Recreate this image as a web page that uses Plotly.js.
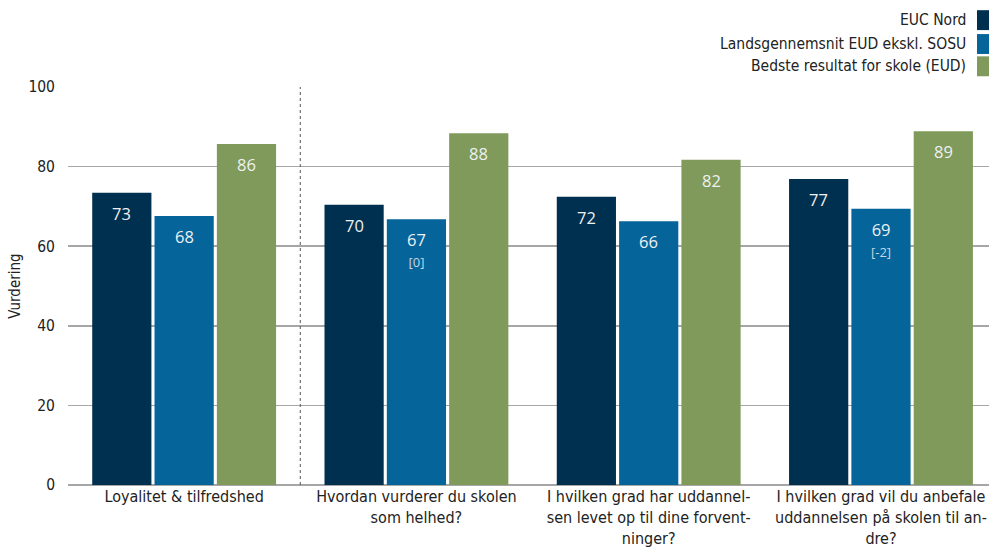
<!DOCTYPE html>
<html><head><meta charset="utf-8">
<script src="https://cdn.plot.ly/plotly-3.0.1.min.js"></script>
<style>html,body{margin:0;padding:0;overflow:hidden;background:#fff}</style>
</head><body><div id="chart" style="width:989px;height:551px"></div>
<script>
const categories = [
  "Loyalitet & tilfredshed",
  "Hvordan vurderer du skolen<br>som helhed?",
  "I hvilken grad har uddannel-<br>sen levet op til dine forvent-<br>ninger?",
  "I hvilken grad vil du anbefale<br>uddannelsen på skolen til an-<br>dre?"
];
const seriesNames = ["EUC Nord", "Landsgennemsnit EUD ekskl. SOSU", "Bedste resultat for skole (EUD)"];
const eucNord = [73.4, 70.4, 72.4, 76.9];
const landsgennemsnit = [67.6, 66.8, 66.3, 69.4];
const bedste = [85.7, 88.4, 81.7, 88.9];
const landsDiff = ["", "[0]", "", "[-2]"];
const colors = ["#00304f", "#05649a", "#7f9a5a"];

const font = "Tahoma, 'DejaVu Sans Condensed', 'DejaVu Sans', sans-serif";
const labelFont = "'Open Sans', 'Noto Sans', sans-serif";
const allSeries = [eucNord, landsgennemsnit, bedste];

const data = allSeries.map((vals, k) => ({
  type: "bar",
  name: seriesNames[k],
  x: categories,
  y: vals,
  marker: {color: colors[k]},
  hoverinfo: "none"
}));

const shapes = [{
  type: "line", xref: "x", yref: "y", x0: 0.5, x1: 0.5, y0: 0, y1: 100,
  line: {color: "#555", width: 1, dash: "dot"}
}];
const annotations = [];
const slotPx = 62.3;
allSeries.forEach((vals, k) => {
  vals.forEach((v, i) => {
    let t = String(Math.round(v));
    if (k === 1 && landsDiff[i]) t += '<br><span style="font-size:13px;color:#c5d5e3">' + landsDiff[i] + '</span>';
    annotations.push({xref: "x", yref: "y", x: categories[i], y: v, xshift: (k - 1) * slotPx, yshift: -7,
      xanchor: "center", yanchor: "top", showarrow: false, text: t,
      font: {family: labelFont, size: 16.5, color: "#eef1f3"}});
  });
});
const legY = [1.168, 1.108, 1.052];
seriesNames.forEach((n, k) => {
  annotations.push({xref: "paper", yref: "paper", x: 0.977, y: legY[k], xanchor: "right", yanchor: "middle",
    text: n, showarrow: false, font: {family: font, size: 15.5, color: "#222"}});
  shapes.push({type: "rect", xref: "paper", yref: "paper", x0: 0.987, x1: 1.0, y0: legY[k] - 0.025, y1: legY[k] + 0.025,
    fillcolor: colors[k], line: {width: 0}});
});

const layout = {
  width: 989, height: 551,
  margin: {l: 68, r: 0, t: 87, b: 66},
  barmode: "group", bargap: 0.195, bargroupgap: 0.05,
  showlegend: false,
  paper_bgcolor: "#fff", plot_bgcolor: "#fff",
  font: {family: font, size: 15, color: "#222"},
  xaxis: {type: "category", range: [-0.5, 3.465], tickfont: {family: font, size: 16, color: "#222"},
    showline: false, ticks: "", automargin: false},
  yaxis: {range: [0, 100], dtick: 20, showgrid: true, gridcolor: "#a6a6a6", gridwidth: 1.5,
    zeroline: true, zerolinecolor: "#a6a6a6", zerolinewidth: 1.5, ticks: "", ticklen: 0,
    ticklabelstandoff: 12,
    tickfont: {family: font, size: 15.5, color: "#222"},
    title: {text: "Vurdering", font: {family: font, size: 15, color: "#222"}, standoff: 4}, automargin: false},
  shapes: shapes, annotations: annotations
};
Plotly.newPlot("chart", data, layout, {staticPlot: true, displayModeBar: false});
</script></body></html>
